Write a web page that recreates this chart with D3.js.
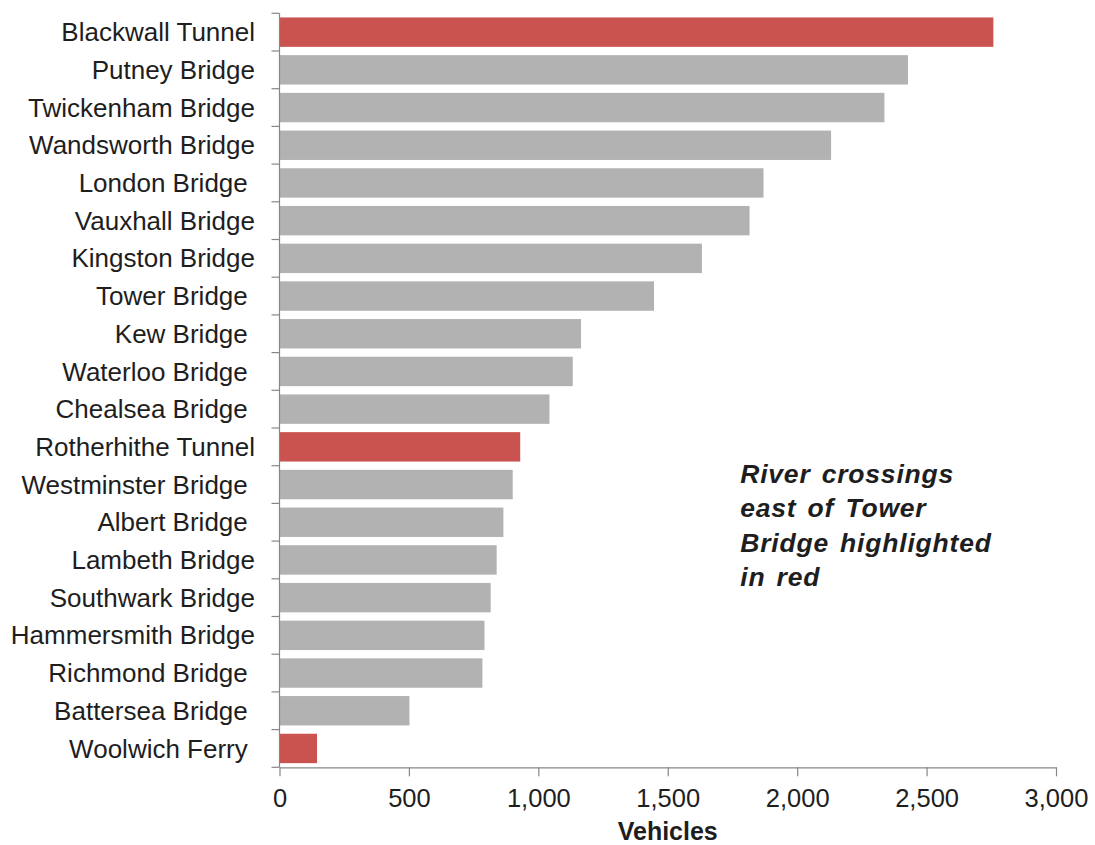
<!DOCTYPE html>
<html>
<head>
<meta charset="utf-8">
<script src="https://cdn.jsdelivr.net/npm/d3@7"></script>
<style>
  html, body { margin: 0; padding: 0; background: #fff; }
  svg { display: block; font-family: "Liberation Sans", Arial, sans-serif; }
  .cat text { white-space: pre; }
</style>
</head>
<body>
<svg id="chart" width="1095" height="845"></svg>
<script>
// Average vehicles per crossing, listed from busiest to quietest
const crossings = [
  "Blackwall Tunnel", "Putney Bridge", "Twickenham Bridge", "Wandsworth Bridge",
  "London Bridge ", "Vauxhall Bridge", "Kingston Bridge", "Tower Bridge ",
  "Kew Bridge ", "Waterloo Bridge ", "Chealsea Bridge ", "Rotherhithe Tunnel",
  "Westminster Bridge ", "Albert Bridge ", "Lambeth Bridge", "Southwark Bridge",
  "Hammersmith Bridge", "Richmond Bridge ", "Battersea Bridge ", "Woolwich Ferry "
];
const vehicles = [
  2758, 2428, 2337, 2131,
  1870, 1816, 1632, 1447,
  1165, 1133, 1043, 930,
  901, 865, 839, 816,
  792, 784, 502, 145
];
// Crossings east of Tower Bridge
const eastOfTower = ["Blackwall Tunnel", "Rotherhithe Tunnel", "Woolwich Ferry "];
const xTicks = [0, 500, 1000, 1500, 2000, 2500, 3000];
const noteLines = ["River crossings", "east of Tower", "Bridge highlighted", "in red"];

const rows = crossings.map((name, i) => ({ name, value: vehicles[i] }));

const svg = d3.select("#chart");
const plotLeft = 279.5, plotRight = 1056, plotTop = 13.3, plotBottom = 767.3;

const x = d3.scaleLinear().domain([0, 3000]).range([plotLeft, plotRight]);
const pad = 0.22;
const y = d3.scaleBand()
  .domain(crossings)
  .range([plotTop, plotBottom])
  .paddingInner(pad)
  .paddingOuter(pad / 2);

const axisColor = "#878787";
const textColor = "#1e1e1e";

// Bars
svg.append("g")
  .selectAll("rect")
  .data(rows)
  .join("rect")
  .attr("x", x(0))
  .attr("y", d => y(d.name))
  .attr("width", d => x(d.value) - x(0))
  .attr("height", y.bandwidth())
  .attr("fill", d => eastOfTower.includes(d.name) ? "#ca5350" : "#b2b2b2");

// Category axis: labels centred on bands, ticks on band boundaries
const yAxis = svg.append("g")
  .attr("class", "cat")
  .attr("transform", `translate(${plotLeft},0)`)
  .call(d3.axisLeft(y).tickSize(0).tickPadding(24.5));
yAxis.select(".domain").remove();
yAxis.selectAll("text")
  .attr("fill", textColor)
  .attr("font-size", 26)
  .attr("dy", "0.35em");

const half = y.step() * pad / 2;
const boundaries = crossings.map(c => y(c) - half).concat([y(crossings[crossings.length - 1]) + y.bandwidth() + half]);
svg.append("g")
  .selectAll("line")
  .data(boundaries)
  .join("line")
  .attr("x1", plotLeft - 8).attr("x2", plotLeft)
  .attr("y1", d => d).attr("y2", d => d)
  .attr("stroke", axisColor).attr("stroke-width", 1.2);
svg.append("line")
  .attr("x1", plotLeft).attr("x2", plotLeft)
  .attr("y1", boundaries[0]).attr("y2", boundaries[boundaries.length - 1])
  .attr("stroke", axisColor).attr("stroke-width", 1.2);

// Value axis
const xAxis = svg.append("g")
  .attr("transform", `translate(0,${plotBottom})`)
  .call(d3.axisBottom(x).tickValues(xTicks).tickFormat(d3.format(",")).tickSize(9).tickSizeOuter(0).tickPadding(13));
xAxis.select(".domain").attr("stroke", axisColor).attr("stroke-width", 1.2);
xAxis.selectAll(".tick line").attr("stroke", axisColor).attr("stroke-width", 1.2);
xAxis.selectAll("text")
  .attr("fill", textColor)
  .attr("font-size", 25.5);

svg.append("text")
  .attr("x", (plotLeft + plotRight) / 2)
  .attr("y", 840)
  .attr("text-anchor", "middle")
  .attr("font-size", 25)
  .attr("font-weight", "bold")
  .attr("fill", textColor)
  .text("Vehicles");

// Annotation
svg.append("text")
  .attr("font-size", 26.5)
  .attr("font-weight", "bold")
  .attr("font-style", "italic")
  .attr("letter-spacing", 0.8)
  .attr("word-spacing", 3)
  .attr("fill", textColor)
  .selectAll("tspan")
  .data(noteLines)
  .join("tspan")
  .attr("x", x(1780))
  .attr("y", (d, i) => 483 + i * 34.3)
  .text(d => d);
</script>
</body>
</html>
